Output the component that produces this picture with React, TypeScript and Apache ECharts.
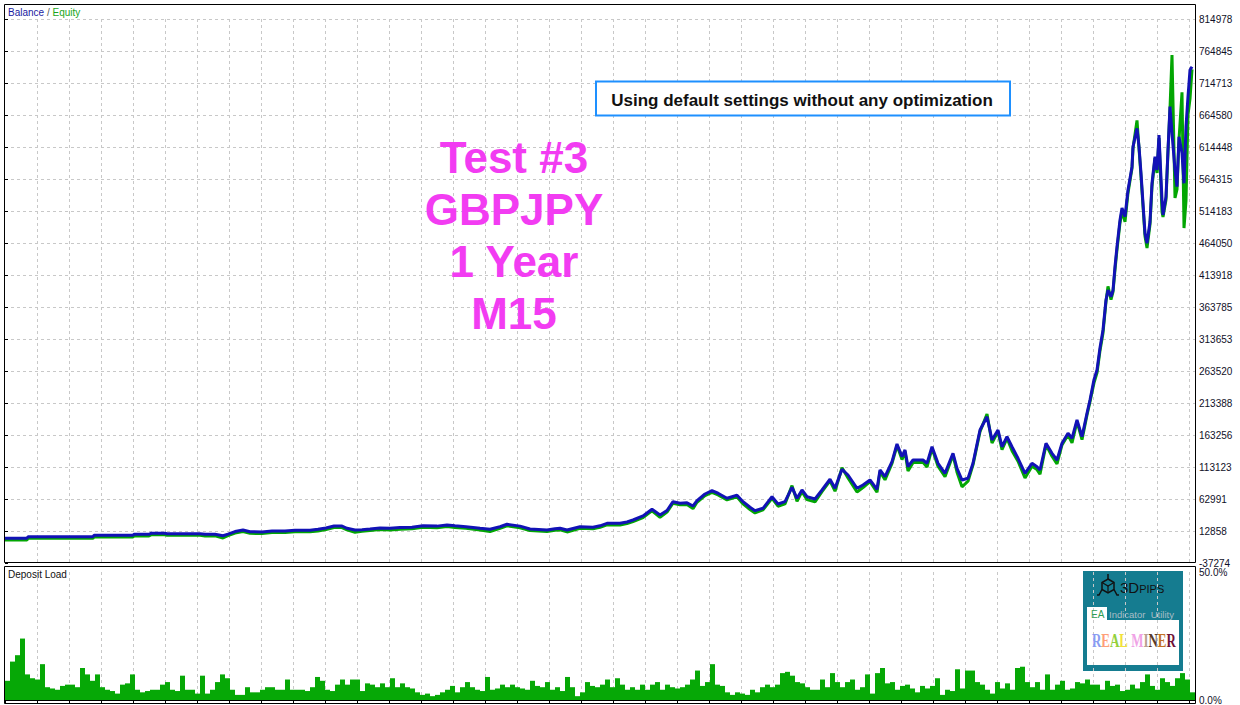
import React, { useEffect, useRef } from "react";
import * as echarts from "echarts";

// time index (0..1190) of each traced point
const steps = [0, 22, 23, 88, 89, 128, 129, 144, 146, 160, 162, 195, 200, 210, 218, 223, 230, 238, 245, 257, 267, 280, 290, 305, 313, 321, 329, 337, 342, 350, 357, 365, 375, 385, 395, 407, 418, 432, 442, 450, 461, 475, 485, 495, 502, 515, 525, 542, 550, 555, 562, 575, 588, 595, 602, 615, 622, 628, 638, 647, 655, 662, 668, 675, 682, 688, 692, 700, 707, 713, 722, 732, 738, 745, 750, 758, 767, 773, 780, 787, 792, 797, 802, 810, 817, 825, 830, 837, 843, 852, 858, 865, 872, 875, 880, 887, 892, 897, 900, 903, 908, 918, 922, 927, 933, 940, 948, 952, 957, 963, 968, 975, 982, 987, 993, 997, 1002, 1007, 1013, 1020, 1027, 1032, 1035, 1041, 1047, 1052, 1057, 1063, 1067, 1072, 1077, 1082, 1085, 1089, 1092, 1095, 1098, 1101, 1103, 1106, 1108, 1110, 1112, 1115, 1117, 1120, 1123, 1127, 1128, 1132, 1134, 1136, 1138, 1140, 1142, 1145, 1147, 1150, 1152, 1154, 1157, 1158, 1161, 1163, 1165, 1167, 1170, 1172, 1174, 1177, 1179, 1181, 1183, 1185, 1187];

const balance = [1400, 1400, 3900, 3900, 6100, 6100, 7700, 7700, 9300, 9300, 8600, 8600, 7700, 7700, 5500, 8000, 12000, 14400, 11800, 11300, 12900, 12900, 14000, 14000, 15500, 17600, 20700, 20700, 17100, 14400, 15000, 16000, 17600, 17000, 18200, 18700, 21200, 20500, 22300, 21000, 19600, 17000, 15500, 19500, 23400, 20500, 16000, 14400, 16500, 17100, 14400, 19600, 18700, 21000, 24900, 24900, 27000, 30100, 36400, 46900, 37900, 45000, 58800, 56300, 57000, 52000, 60300, 70800, 76000, 72000, 64100, 68800, 58800, 50000, 44700, 48400, 66600, 55200, 58800, 81300, 64100, 77100, 66600, 63000, 77100, 93900, 79800, 109500, 100600, 79800, 84900, 92800, 78200, 108400, 97900, 121400, 149200, 129300, 139800, 113600, 124100, 124100, 118900, 144900, 118900, 103300, 134600, 111100, 92800, 95400, 118900, 171100, 191900, 155400, 171100, 144900, 160600, 144900, 126800, 103300, 118900, 113600, 108400, 150300, 134600, 124100, 150300, 165900, 158100, 186800, 160600, 197300, 218100, 250000, 265100, 300000, 327800, 374800, 390400, 379900, 390000, 426900, 458300, 500100, 518900, 505300, 547100, 583600, 614900, 643700, 614900, 573200, 526200, 479200, 463600, 497400, 557600, 599300, 578400, 633200, 531400, 507900, 536600, 609700, 677600, 635900, 578400, 552300, 630600, 604600, 557600, 646300, 693300, 735100, 740300];

const equity = [-1100, -1100, 1400, 1400, 3600, 3600, 5200, 5200, 6800, 6800, 6100, 6100, 5200, 5200, 2000, 5500, 9500, 11900, 9300, 8800, 10400, 10400, 11500, 11500, 13000, 15100, 18200, 18200, 14600, 11000, 12500, 13500, 15100, 14500, 15700, 16200, 18700, 18000, 19800, 18500, 17100, 14500, 12000, 17000, 20900, 18000, 13500, 11900, 14000, 14600, 11400, 17100, 16200, 18500, 22400, 22400, 24500, 27600, 33900, 44400, 34400, 42500, 56300, 53800, 54500, 48000, 57800, 68300, 73500, 69500, 61600, 66300, 55300, 46500, 41200, 45900, 64100, 51700, 55300, 84000, 59500, 74600, 62000, 58500, 74600, 91400, 75200, 112000, 96000, 74000, 81000, 90300, 73500, 105900, 93000, 118900, 146700, 124700, 137300, 107000, 120000, 120500, 113000, 142400, 114300, 98000, 132100, 105000, 82000, 90800, 116400, 168600, 196000, 150800, 168600, 140300, 158100, 138600, 122200, 96000, 114300, 109000, 102000, 147800, 130000, 118000, 147800, 163400, 151000, 184300, 156000, 194800, 215600, 245000, 260500, 295400, 323200, 372300, 396000, 375300, 387500, 422300, 453700, 495500, 514300, 497000, 542500, 581100, 612400, 656000, 612400, 568600, 521600, 474600, 456200, 492800, 553000, 596800, 573800, 628600, 512500, 504800, 532000, 607200, 675100, 758600, 534600, 548000, 626000, 700000, 487500, 530000, 665000, 690000, 736000];

// deposit load, %, one value per 5-step bin
const depositLoad = [
  7.5, 15, 17.5, 24, 10, 8.5, 8, 14, 5, 4.5,
  4, 5.5, 6, 6, 5, 12.5, 10, 7.5, 10, 5,
  4, 3.5, 2.5, 6, 6.5, 10, 4, 3, 3.5, 4,
  4, 6, 7, 4, 3.5, 9.5, 4, 4, 2.5, 9.5,
  2.5, 4, 7, 10, 8.5, 4, 2, 2, 5, 3,
  3, 4, 5, 5, 4, 4, 8, 4, 4, 4,
  3.5, 5, 9, 7.5, 4, 3.5, 6, 8, 6, 8,
  8, 3.5, 6.5, 6, 5, 6.5, 5, 8.5, 5, 6.5,
  5, 4.5, 3, 2, 2.5, 1.5, 2, 3, 4, 5.5,
  3, 5, 7, 5, 4, 3.5, 9, 4, 4.5, 6,
  5, 6, 5, 4.5, 4, 7.5, 5.5, 5, 7, 4,
  5, 3.5, 9, 5, 1.5, 3, 7, 5.5, 5, 6,
  8, 5, 8.5, 6, 4, 5, 4, 6, 4, 6,
  7, 4, 6, 5, 4.5, 5, 6, 8, 11.5, 5.5,
  7, 14, 6, 5.5, 3, 2, 3, 2.5, 2, 4,
  3, 5, 6, 5, 6, 10.5, 11, 9.5, 7, 6.5,
  5, 4, 4, 8, 5, 10.5, 7, 5, 7, 8,
  4, 5, 10, 2.5, 10.5, 12.5, 6.5, 7, 4, 5.5,
  6, 4.5, 3, 5.5, 4.5, 5.5, 8.5, 2, 4, 3.5,
  12, 4.5, 11.5, 11.5, 7, 6, 4, 2.5, 7, 4.5,
  6.5, 4, 12.5, 13, 7, 5, 7, 4, 10, 4,
  6, 7.5, 4, 4.5, 7, 6.5, 8, 6, 6, 4,
  7.5, 5.5, 6, 3.5, 4, 6, 4.5, 7, 10, 5.5,
  4, 8.5, 7, 5.5, 8.5, 10.5, 8, 3,
];

const yMin = -37274.35;
const yStep = 50132.47;
const yCount = 17;
const tMax = 1190;
const binSize = 5;
const loadMax = 50;

const titleLines = ["Test #3", "GBPJPY", "1 Year", "M15"];
const noteText = "Using default settings without any optimization";

const realMiner = [
  ["R", "#8a9cf2"], ["E", "#ff9f78"], ["A", "#93d03c"], ["L", "#f2e23a"], [" ", "#000"],
  ["M", "#f0a3e6"], ["I", "#b8a090"], ["N", "#5a3a28"], ["E", "#c47222"], ["R", "#6e1238"],
];

export default function App() {
  const ref = useRef<HTMLDivElement>(null);
  useEffect(() => {
    document.body.style.margin = "0";
    const chart = echarts.init(ref.current!, null, { renderer: "svg" });
    const font = "Liberation Sans";
    const grid = "#c8c8c8";

    const balanceData = steps.map((t, i) => [t, balance[i]]);
    const equityData = steps.map((t, i) => [t, equity[i]]);
    const loadData = depositLoad.map((v, i) => [i * binSize + binSize / 2, v]);

    const rich: any = {};
    let mText = "";
    realMiner.forEach(([ch, col], i) => {
      rich["c" + i] = { fill: col, color: col, font: "bold 18px 'Liberation Serif'" };
      mText += ch === " " ? "{c" + i + "| }" : "{c" + i + "|" + ch + "}";
    });

    const txt = (text: string, x: number, y: number, style: any, z = 10) => ({
      type: "text", x, y, z,
      style: { text, align: "left", verticalAlign: "middle", textAlign: "left", textVerticalAlign: "middle", ...style },
    });

    const option: any = {
      animation: false,
      grid: [
        { left: 5, top: 19, width: tMax, height: 544 },
        { left: 5, top: 572, width: tMax, height: 131 },
      ],
      xAxis: [
        {
          type: "value", gridIndex: 0, min: 0, max: tMax, interval: 32,
          axisLine: { show: false }, axisTick: { show: false }, axisLabel: { show: false },
          splitLine: { show: true, showMinLine: false, showMaxLine: false, lineStyle: { color: grid, type: [3, 3], width: 1 } },
        },
        {
          type: "value", gridIndex: 1, min: 0, max: tMax, interval: 32,
          axisLine: { show: true, lineStyle: { color: "#000" } },
          axisTick: { show: true, length: 3, lineStyle: { color: "#000" } },
          axisLabel: { show: false },
          splitLine: { show: true, showMinLine: false, showMaxLine: false, lineStyle: { color: grid, type: [3, 3], width: 1 } },
        },
      ],
      yAxis: [
        {
          type: "value", gridIndex: 0, position: "right",
          min: yMin, max: yMin + yCount * yStep, interval: yStep,
          axisLine: { show: false },
          axisTick: { show: true, length: 3, lineStyle: { color: "#000" } },
          axisLabel: { show: true, margin: 4, fontSize: 10, fontFamily: font, color: "#101028", formatter: (v: number) => String(Math.round(v)) },
          splitLine: { show: true, showMinLine: false, showMaxLine: true, lineStyle: { color: grid, type: [3, 3], width: 1 } },
        },
        {
          type: "value", gridIndex: 1, position: "right", min: 0, max: loadMax, interval: loadMax,
          axisLine: { show: false },
          axisTick: { show: false },
          axisLabel: { show: true, margin: 4, fontSize: 10, fontFamily: font, color: "#101028", formatter: (v: number) => v.toFixed(1) + "%" },
          splitLine: { show: false },
        },
      ],
      series: [
        {
          name: "Equity", type: "line", xAxisIndex: 0, yAxisIndex: 0, data: equityData,
          showSymbol: false, symbol: "none", lineStyle: { color: "#03a603", width: 3 }, z: 3,
        },
        {
          name: "Balance", type: "line", xAxisIndex: 0, yAxisIndex: 0, data: balanceData,
          showSymbol: false, symbol: "none", lineStyle: { color: "#1212b6", width: 3 }, z: 4,
        },
        {
          name: "Deposit Load", type: "bar", xAxisIndex: 1, yAxisIndex: 1, data: loadData,
          barWidth: binSize, itemStyle: { color: "#06a806" }, z: 3,
        },
      ],
      graphic: [
        { type: "rect", z: 20, shape: { x: 4.5, y: 4.5, width: 1191, height: 558 }, style: { fill: "none", stroke: "#000", lineWidth: 1 } },
        { type: "rect", z: 20, shape: { x: 4.5, y: 566.5, width: 1191, height: 137 }, style: { fill: "none", stroke: "#000", lineWidth: 1 } },
        txt("{b|Balance} {s|/} {e|Equity}", 8, 12, {
          font: `10px '${font}'`,
          rich: {
            b: { fill: "#1a1aa0", color: "#1a1aa0", font: `10px '${font}'` },
            s: { fill: "#555", color: "#555", font: `10px '${font}'` },
            e: { fill: "#1aa51a", color: "#1aa51a", font: `10px '${font}'` },
          },
        }),
        txt("Deposit Load", 8, 574, { fill: "#111", font: `10px '${font}'` }),
        ...titleLines.map((s, i) => ({
          type: "text", x: 514, y: 157 + i * 52, z: 10,
          style: { text: s, fill: "#f23cf2", font: `bold 44px 'Liberation Sans'`, align: "center", verticalAlign: "middle", textAlign: "center", textVerticalAlign: "middle" },
        })),
        { type: "rect", z: 10, shape: { x: 596, y: 81.5, width: 414, height: 34 }, style: { fill: "#fff", stroke: "#1e90ff", lineWidth: 2 } },
        {
          type: "text", x: 802, y: 100, z: 11,
          style: { text: noteText, fill: "#111", font: `bold 17px 'Liberation Sans'`, align: "center", verticalAlign: "middle", textAlign: "center", textVerticalAlign: "middle" },
        },
        // logo
        {
          type: "group", z: 30,
          children: [
            { type: "rect", shape: { x: 1083, y: 571, width: 100, height: 100 }, style: { fill: "#157c90" } },
            { type: "line", shape: { x1: 1108, y1: 574, x2: 1108, y2: 579 }, style: { stroke: "#111", lineWidth: 1.5 } },
            { type: "polygon", shape: { points: [[1108, 579], [1114, 582.5], [1114, 589.5], [1108, 593], [1102, 589.5], [1102, 582.5]] }, style: { fill: "none", stroke: "#111", lineWidth: 1.5 } },
            { type: "polyline", shape: { points: [[1102, 582.5], [1108, 586], [1114, 582.5]] }, style: { fill: "none", stroke: "#111", lineWidth: 1.2 } },
            { type: "line", shape: { x1: 1108, y1: 586, x2: 1108, y2: 593 }, style: { stroke: "#111", lineWidth: 1.2 } },
            { type: "polyline", shape: { points: [[1102, 589.5], [1099, 595], [1097, 595]] }, style: { fill: "none", stroke: "#111", lineWidth: 1.5 } },
            { type: "polyline", shape: { points: [[1114, 589.5], [1117, 595], [1119, 595]] }, style: { fill: "none", stroke: "#111", lineWidth: 1.5 } },
            {
              type: "text", x: 1120, y: 587,
              style: {
                text: "{a|3D}{b|PIPS}", align: "left", verticalAlign: "middle", textAlign: "left", textVerticalAlign: "middle",
                rich: {
                  a: { fill: "#111", color: "#111", font: `15px 'Liberation Sans'` },
                  b: { fill: "#111", color: "#111", font: `11px 'Liberation Sans'`, padding: [3, 0, 0, 0] },
                },
              },
            },
            { type: "rect", shape: { x: 1087, y: 607, width: 20, height: 14 }, style: { fill: "#fff" } },
            txt("EA", 1091, 614, { fill: "#2f9e55", font: `10px '${font}'` }),
            txt("Indicator  Utility", 1109, 614, { fill: "#a8bcc6", font: `9.5px '${font}'` }),
            { type: "rect", shape: { x: 1087, y: 620, width: 92, height: 45 }, style: { fill: "#fff" } },
            { ...txt(mText, 0, 0, { rich, font: "bold 18px 'Liberation Serif'" }), x: 1092, y: 641, scaleX: 0.72 },
          ],
        },
      ],
    };
    chart.setOption(option);
    return () => chart.dispose();
  }, []);
  return <div ref={ref} style={{ width: 1240, height: 705 }} />;
}
